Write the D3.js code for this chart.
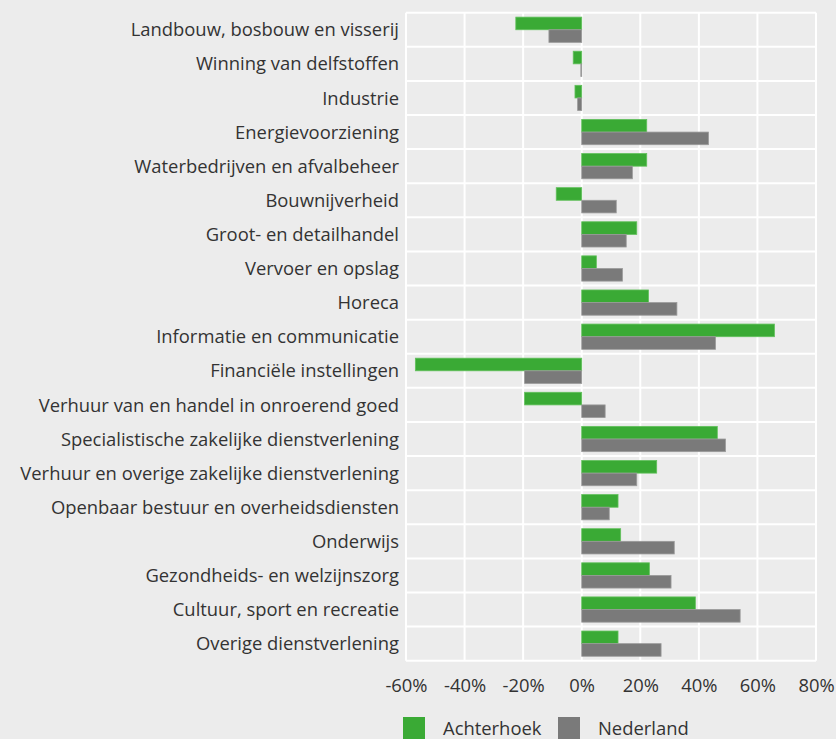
<!DOCTYPE html>
<html>
<head>
<meta charset="utf-8">
<script src="https://cdn.jsdelivr.net/npm/d3@7"></script>
<style>
  body { margin: 0; background: #ececec; }
  svg { display: block; font-family: 'Open Sans', 'Noto Sans', sans-serif; }
</style>
</head>
<body>
<div id="chart"></div>
<script>
const categories = [
  'Landbouw, bosbouw en visserij',
  'Winning van delfstoffen',
  'Industrie',
  'Energievoorziening',
  'Waterbedrijven en afvalbeheer',
  'Bouwnijverheid',
  'Groot- en detailhandel',
  'Vervoer en opslag',
  'Horeca',
  'Informatie en communicatie',
  'Financiële instellingen',
  'Verhuur van en handel in onroerend goed',
  'Specialistische zakelijke dienstverlening',
  'Verhuur en overige zakelijke dienstverlening',
  'Openbaar bestuur en overheidsdiensten',
  'Onderwijs',
  'Gezondheids- en welzijnszorg',
  'Cultuur, sport en recreatie',
  'Overige dienstverlening',
];

// growth in %
const achterhoek = [-22.5, -2.9, -2.3, 22.2, 22.2, -8.7, 18.8, 5.0, 22.8, 65.8,
  -56.8, -19.5, 46.3, 25.6, 12.4, 13.3, 23.1, 38.8, 12.4];
const nederland = [-11.2, -0.3, -1.4, 43.3, 17.3, 11.8, 15.2, 13.9, 32.5, 45.7,
  -19.5, 8.0, 49.1, 18.8, 9.4, 31.6, 30.5, 54.1, 27.1];

const xTicks = [-60, -40, -20, 0, 20, 40, 60, 80];
const seriesNames = ['Achterhoek', 'Nederland'];
const colors = { Achterhoek: '#3aaa35', Nederland: '#7a7a7a' };
const strokes = { Achterhoek: '#62c05c', Nederland: '#9b9b9b' };

const width = 836;
const height = 739;
const plot = { left: 406, right: 816, top: 12.7, bottom: 660.7 };
const FONT_SIZE = '18.4px';

const svg = d3
  .select('#chart')
  .append('svg')
  .attr('width', width)
  .attr('height', height);

svg.append('rect').attr('width', width).attr('height', height).attr('fill', '#ececec');

// Scales
const x = d3.scaleLinear().domain([-60, 80]).range([plot.left, plot.right]);
const y = d3.scaleBand().domain(categories).range([plot.top, plot.bottom]).padding(0);
const y1 = d3
  .scaleBand()
  .domain(seriesNames)
  .range([0, y.bandwidth()])
  .paddingInner(0)
  .paddingOuter(0.35);

// Grid
const grid = svg.append('g').attr('stroke', '#ffffff').attr('stroke-width', 2);
grid
  .selectAll('line.v')
  .data(xTicks)
  .join('line')
  .attr('class', 'v')
  .attr('x1', (d) => x(d))
  .attr('x2', (d) => x(d))
  .attr('y1', plot.top)
  .attr('y2', plot.bottom);

const rowEdges = categories.map((c) => y(c)).concat([plot.bottom]);
grid
  .selectAll('line.h')
  .data(rowEdges)
  .join('line')
  .attr('class', 'h')
  .attr('x1', plot.left)
  .attr('x2', plot.right)
  .attr('y1', (d) => d)
  .attr('y2', (d) => d);

// Bars
const rows = categories.map((c, i) => ({
  category: c,
  values: [
    { key: 'Achterhoek', value: achterhoek[i] },
    { key: 'Nederland', value: nederland[i] },
  ],
}));

svg
  .append('g')
  .selectAll('g')
  .data(rows)
  .join('g')
  .attr('transform', (d) => `translate(0,${y(d.category)})`)
  .selectAll('rect')
  .data((d) => d.values)
  .join('rect')
  .attr('x', (d) => x(Math.min(0, d.value)))
  .attr('y', (d) => y1(d.key))
  .attr('width', (d) => Math.max(0.6, Math.abs(x(d.value) - x(0))))
  .attr('height', y1.bandwidth())
  .attr('fill', (d) => colors[d.key])
  .attr('stroke', (d) => strokes[d.key])
  .attr('stroke-width', 0.8);

// Category labels
svg
  .append('g')
  .selectAll('text')
  .data(categories)
  .join('text')
  .attr('x', 399)
  .attr('y', (d) => y(d) + y.bandwidth() / 2)
  .attr('dy', '0.36em')
  .attr('text-anchor', 'end')
  .attr('font-size', FONT_SIZE)
  .attr('fill', '#333')
  .text((d) => d);

// X axis
const xAxis = svg
  .append('g')
  .attr('transform', `translate(0,${plot.bottom})`)
  .call(
    d3
      .axisBottom(x)
      .tickValues(xTicks)
      .tickSize(0)
      .tickPadding(18)
      .tickFormat((d) => `${d}%`)
  );
xAxis.select('.domain').remove();
xAxis
  .selectAll('text')
  .attr('font-size', FONT_SIZE)
  .attr('font-family', "'Open Sans', 'Noto Sans', sans-serif")
  .attr('fill', '#333');

// Legend
const legend = svg
  .append('g')
  .selectAll('g')
  .data(seriesNames)
  .join('g')
  .attr('transform', (d, i) => `translate(${403 + i * 155},717)`);

legend
  .append('rect')
  .attr('width', 22)
  .attr('height', 22)
  .attr('fill', (d) => colors[d]);

legend
  .append('text')
  .attr('x', 40)
  .attr('y', 18)
  .attr('font-size', FONT_SIZE)
  .attr('fill', '#333')
  .text((d) => d);
</script>
</body>
</html>
